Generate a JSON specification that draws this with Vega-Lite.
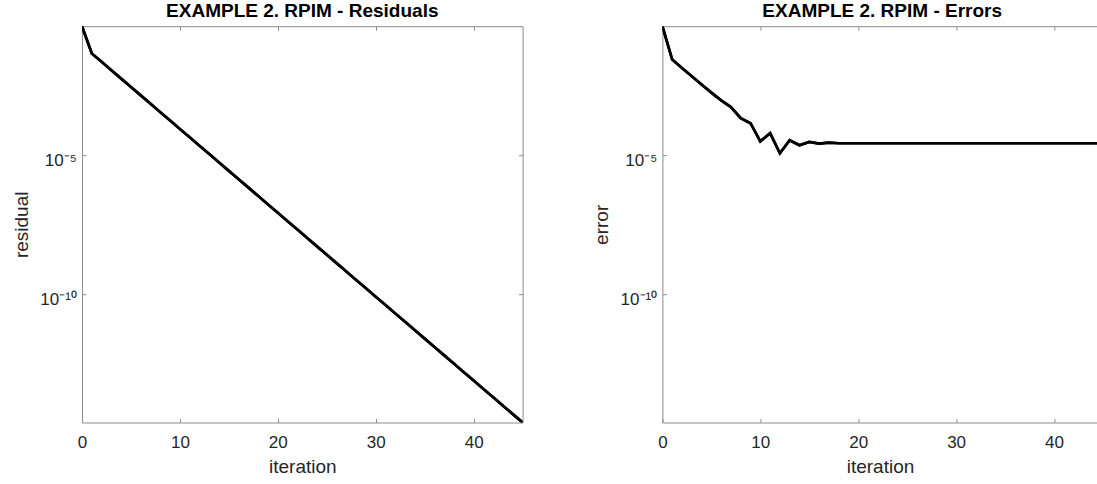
{
  "$schema": "https://vega.github.io/schema/vega-lite/v6.json",
  "autosize": {"type": "pad"},
  "padding": {"left": 12, "top": 1.2, "right": 0, "bottom": 0},
  "background": "white",
  "bounds": "flush",
  "spacing": 139.4,
  "config": {
    "view": {"stroke": null},
    "font": "Liberation Sans",
    "axis": {
      "grid": false,
      "domainColor": "#8c8c8c",
      "domainWidth": 1,
      "tickColor": "#8c8c8c",
      "tickWidth": 1,
      "tickSize": -4,
      "labelFont": "Liberation Sans",
      "labelFontSize": 17,
      "labelColor": "#262626",
      "labelFlush": false,
      "labelOverlap": false,
      "titleFont": "Liberation Sans",
      "titleFontSize": 19,
      "titleFontWeight": "normal",
      "titleColor": "#262626"
    },
    "title": {
      "font": "Liberation Sans",
      "fontSize": 19,
      "fontWeight": "bold",
      "color": "#000000",
      "baseline": "alphabetic",
      "anchor": "middle",
      "offset": 4.6
    }
  },
  "datasets": {
    "res": [
      {"iteration": 0, "residual": 0.4365},
      {"iteration": 1, "residual": 4.571e-2},
      {"iteration": 2, "residual": 2.280e-2},
      {"iteration": 3, "residual": 1.140e-2},
      {"iteration": 4, "residual": 5.689e-3},
      {"iteration": 5, "residual": 2.838e-3},
      {"iteration": 6, "residual": 1.416e-3},
      {"iteration": 7, "residual": 7.079e-4},
      {"iteration": 8, "residual": 3.532e-4},
      {"iteration": 9, "residual": 1.762e-4},
      {"iteration": 10, "residual": 8.810e-5},
      {"iteration": 11, "residual": 4.395e-5},
      {"iteration": 12, "residual": 2.193e-5},
      {"iteration": 13, "residual": 1.096e-5},
      {"iteration": 14, "residual": 5.470e-6},
      {"iteration": 15, "residual": 2.729e-6},
      {"iteration": 16, "residual": 1.361e-6},
      {"iteration": 17, "residual": 6.808e-7},
      {"iteration": 18, "residual": 3.396e-7},
      {"iteration": 19, "residual": 1.694e-7},
      {"iteration": 20, "residual": 8.472e-8},
      {"iteration": 21, "residual": 4.227e-8},
      {"iteration": 22, "residual": 2.109e-8},
      {"iteration": 23, "residual": 1.054e-8},
      {"iteration": 24, "residual": 5.260e-9},
      {"iteration": 25, "residual": 2.624e-9},
      {"iteration": 26, "residual": 1.309e-9},
      {"iteration": 27, "residual": 6.546e-10},
      {"iteration": 28, "residual": 3.266e-10},
      {"iteration": 29, "residual": 1.629e-10},
      {"iteration": 30, "residual": 8.147e-11},
      {"iteration": 31, "residual": 4.064e-11},
      {"iteration": 32, "residual": 2.028e-11},
      {"iteration": 33, "residual": 1.014e-11},
      {"iteration": 34, "residual": 5.058e-12},
      {"iteration": 35, "residual": 2.523e-12},
      {"iteration": 36, "residual": 1.259e-12},
      {"iteration": 37, "residual": 6.295e-13},
      {"iteration": 38, "residual": 3.141e-13},
      {"iteration": 39, "residual": 1.567e-13},
      {"iteration": 40, "residual": 7.834e-14},
      {"iteration": 41, "residual": 3.908e-14},
      {"iteration": 42, "residual": 1.950e-14},
      {"iteration": 43, "residual": 9.750e-15},
      {"iteration": 44, "residual": 4.864e-15},
      {"iteration": 45, "residual": 2.427e-15}
    ],
    "err": [
      {"iteration": 0, "error": 0.4365},
      {"iteration": 1, "error": 2.754e-2},
      {"iteration": 2, "error": 1.380e-2},
      {"iteration": 3, "error": 6.918e-3},
      {"iteration": 4, "error": 3.467e-3},
      {"iteration": 5, "error": 1.778e-3},
      {"iteration": 6, "error": 9.333e-4},
      {"iteration": 7, "error": 5.370e-4},
      {"iteration": 8, "error": 2.138e-4},
      {"iteration": 9, "error": 1.413e-4},
      {"iteration": 10, "error": 3.162e-5},
      {"iteration": 11, "error": 6.166e-5},
      {"iteration": 12, "error": 1.175e-5},
      {"iteration": 13, "error": 3.467e-5},
      {"iteration": 14, "error": 2.291e-5},
      {"iteration": 15, "error": 3.020e-5},
      {"iteration": 16, "error": 2.630e-5},
      {"iteration": 17, "error": 2.818e-5},
      {"iteration": 18, "error": 2.692e-5},
      {"iteration": 19, "error": 2.692e-5},
      {"iteration": 20, "error": 2.692e-5},
      {"iteration": 21, "error": 2.692e-5},
      {"iteration": 22, "error": 2.692e-5},
      {"iteration": 23, "error": 2.692e-5},
      {"iteration": 24, "error": 2.692e-5},
      {"iteration": 25, "error": 2.692e-5},
      {"iteration": 26, "error": 2.692e-5},
      {"iteration": 27, "error": 2.692e-5},
      {"iteration": 28, "error": 2.692e-5},
      {"iteration": 29, "error": 2.692e-5},
      {"iteration": 30, "error": 2.692e-5},
      {"iteration": 31, "error": 2.692e-5},
      {"iteration": 32, "error": 2.692e-5},
      {"iteration": 33, "error": 2.692e-5},
      {"iteration": 34, "error": 2.692e-5},
      {"iteration": 35, "error": 2.692e-5},
      {"iteration": 36, "error": 2.692e-5},
      {"iteration": 37, "error": 2.692e-5},
      {"iteration": 38, "error": 2.692e-5},
      {"iteration": 39, "error": 2.692e-5},
      {"iteration": 40, "error": 2.692e-5},
      {"iteration": 41, "error": 2.692e-5},
      {"iteration": 42, "error": 2.692e-5},
      {"iteration": 43, "error": 2.692e-5},
      {"iteration": 44, "error": 2.692e-5},
      {"iteration": 45, "error": 2.692e-5}
    ]
  },
  "hconcat": [
    {
      "width": 440.6,
      "height": 396.3,
      "title": {"text": "EXAMPLE 2. RPIM - Residuals"},
      "data": {"name": "res"},
      "layer": [
        {
          "mark": {"type": "line", "color": "#000000", "strokeWidth": 2.7, "clip": true, "strokeJoin": "miter"},
          "encoding": {
            "x": {
              "field": "iteration", "type": "quantitative",
              "scale": {"domain": [0, 45], "nice": false, "zero": false},
              "axis": {"orient": "bottom", "values": [0, 10, 20, 30, 40], "title": "iteration",
                       "labelBaseline": "alphabetic", "labelPadding": 29, "titleY": 50, "titleBaseline": "alphabetic"}
            },
            "y": {
              "field": "residual", "type": "quantitative",
              "scale": {"type": "log", "domain": [2.427e-15, 0.4365], "nice": false},
              "axis": {"orient": "left", "values": [1e-10, 1e-5], "title": "residual",
                       "labelExpr": "datum.value < 1e-7 ? '10⁻¹⁰' : '10⁻⁵'",
                       "labelAlign": "right", "labelBaseline": "alphabetic", "labelOffset": 10, "labelPadding": 9.7,
                       "titleX": -54.7, "titleBaseline": "alphabetic"}
            }
          }
        },
        {
          "mark": {"type": "line", "color": "#000000", "strokeWidth": 2.7, "clip": true, "strokeJoin": "miter"},
          "encoding": {
            "x": {
              "field": "iteration", "type": "quantitative",
              "axis": {"orient": "top", "values": [0, 10, 20, 30, 40], "labels": false, "title": null}
            },
            "y": {
              "field": "residual", "type": "quantitative",
              "axis": {"orient": "right", "values": [1e-10, 1e-5], "labels": false, "title": null}
            }
          }
        }
      ],
      "resolve": {"axis": {"x": "independent", "y": "independent"}}
    },
    {
      "width": 435.2,
      "height": 396.3,
      "title": {"text": "EXAMPLE 2. RPIM - Errors", "dx": 2.2},
      "data": {"name": "err"},
      "layer": [
        {
          "mark": {"type": "line", "color": "#000000", "strokeWidth": 2.7, "clip": true, "strokeJoin": "miter"},
          "encoding": {
            "x": {
              "field": "iteration", "type": "quantitative",
              "scale": {"domain": [0, 44.45], "nice": false, "zero": false},
              "axis": {"orient": "bottom", "values": [0, 10, 20, 30, 40], "title": "iteration",
                       "labelBaseline": "alphabetic", "labelPadding": 29, "titleY": 50, "titleBaseline": "alphabetic"}
            },
            "y": {
              "field": "error", "type": "quantitative",
              "scale": {"type": "log", "domain": [2.427e-15, 0.4365], "nice": false},
              "axis": {"orient": "left", "values": [1e-10, 1e-5], "title": "error",
                       "labelExpr": "datum.value < 1e-7 ? '10⁻¹⁰' : '10⁻⁵'",
                       "labelAlign": "right", "labelBaseline": "alphabetic", "labelOffset": 10, "labelPadding": 9.7,
                       "titleX": -54.7, "titleBaseline": "alphabetic"}
            }
          }
        },
        {
          "mark": {"type": "line", "color": "#000000", "strokeWidth": 2.7, "clip": true, "strokeJoin": "miter"},
          "encoding": {
            "x": {
              "field": "iteration", "type": "quantitative",
              "axis": {"orient": "top", "values": [0, 10, 20, 30, 40], "labels": false, "title": null}
            },
            "y": {
              "field": "error", "type": "quantitative",
              "axis": null
            }
          }
        }
      ],
      "resolve": {"axis": {"x": "independent", "y": "independent"}}
    }
  ]
}
